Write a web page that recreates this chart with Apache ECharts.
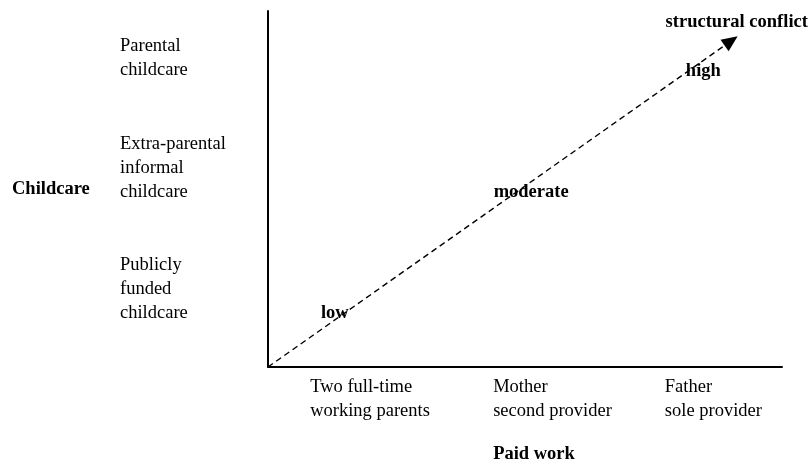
<!DOCTYPE html>
<html>
<head>
<meta charset="utf-8">
<script src="https://cdn.jsdelivr.net/npm/echarts@6/dist/echarts.min.js"></script>
<style>html,body{margin:0;padding:0;background:#fff}#c{width:811px;height:467px}</style>
</head>
<body>
<div id="c"></div>
<script>
// Paid work categories (x axis) and their label anchor values
var xCategories = ['Two full-time\nworking parents', 'Mother\nsecond provider', 'Father\nsole provider'];
var xTickValues = [8.2, 43.8, 77.2];
// Childcare categories (y axis) and their label anchor values
var yCategories = ['Parental\nchildcare', 'Extra-parental\ninformal\nchildcare', 'Publicly\nfunded\nchildcare'];
var yTickValues = [86.8, 55.9, 21.9];
// Structural conflict levels along the arrow
var levelNames = ['low', 'moderate', 'high', 'structural conflict'];
var levelX = [13.0, 51.2, 84.7, 91.2];
var levelY = [15.2, 49.2, 83.1, 96.9];
// Arrow from origin to end
var arrowStart = [0, 0];
var arrowEnd = [90.1, 91.6];

var FONT = 'Liberation Serif';
var FS = 18.5;
var chart = echarts.init(document.getElementById('c'));
function nearestLabel(vals, labels, v) {
  var best = 0;
  for (var i = 1; i < vals.length; i++) if (Math.abs(vals[i] - v) < Math.abs(vals[best] - v)) best = i;
  return labels[best];
}
chart.setOption({
  animation: false,
  grid: { left: 268, right: 29, top: 11, bottom: 100, containLabel: false, outerBoundsMode: 'none' },
  xAxis: {
    type: 'value', min: 0, max: 100,
    name: 'Paid work', nameLocation: 'middle', nameGap: 78,
    nameTextStyle: { fontFamily: FONT, fontSize: FS, fontWeight: 'bold', color: '#000', padding: [0, 0, 0, 18] },
    axisLine: { show: true, onZero: false, lineStyle: { color: '#000', width: 2 } },
    axisTick: { show: false }, splitLine: { show: false },
    axisLabel: {
      customValues: xTickValues, align: 'left', verticalAlign: 'top', margin: 8,
      fontFamily: FONT, fontSize: FS, lineHeight: 24, color: '#000',
      formatter: function (v) { return nearestLabel(xTickValues, xCategories, v); }
    }
  },
  yAxis: {
    type: 'value', min: 0, max: 100,
    name: 'Childcare', nameLocation: 'middle', nameRotate: 0, nameGap: 256,
    nameTextStyle: { fontFamily: FONT, fontSize: FS, fontWeight: 'bold', color: '#000', align: 'left', padding: [12, 0, 0, 0] },
    axisLine: { show: true, onZero: false, lineStyle: { color: '#000', width: 2 } },
    axisTick: { show: false }, splitLine: { show: false },
    axisLabel: {
      customValues: yTickValues, align: 'left', margin: 148,
      fontFamily: FONT, fontSize: FS, lineHeight: 24, color: '#000',
      formatter: function (v) { return nearestLabel(yTickValues, yCategories, v); }
    }
  },
  series: [
    {
      type: 'line', data: [], silent: true,
      markLine: {
        silent: true, animation: false,
        symbol: ['none', 'triangle'], symbolSize: [14, 16],
        label: { show: false },
        lineStyle: { color: '#000', width: 1.4, type: [6, 4] },
        emphasis: { disabled: true },
        data: [[{ coord: arrowStart }, { coord: arrowEnd }]]
      }
    },
    {
      type: 'scatter', silent: true, symbolSize: 1,
      itemStyle: { color: 'rgba(0,0,0,0)' },
      data: levelNames.map(function (n, i) { return { name: n, value: [levelX[i], levelY[i]] }; }),
      label: {
        show: true, position: 'inside', formatter: '{b}',
        fontFamily: FONT, fontSize: FS, fontWeight: 'bold', color: '#000',
        opacity: 1, textBorderWidth: 0, textBorderColor: 'transparent'
      }
    }
  ]
});
</script>
</body>
</html>
